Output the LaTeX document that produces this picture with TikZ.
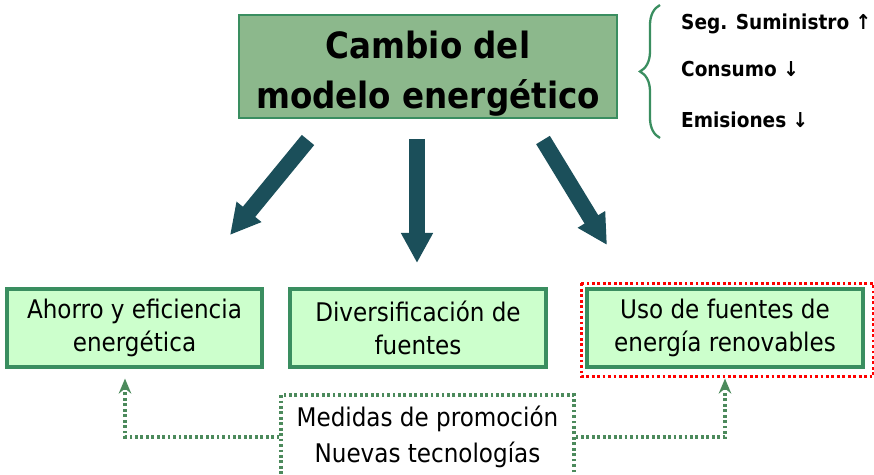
\documentclass[tikz,border=0pt]{standalone}
\usepackage{fontspec}
\IfFontExistsTF{DejaVu Sans Condensed}{\setmainfont{DejaVu Sans Condensed}}{\setmainfont{DejaVu Sans}}
\usetikzlibrary{arrows.meta,decorations.pathreplacing}
\definecolor{sage}{RGB}{140,184,140}
\definecolor{mint}{RGB}{204,255,204}
\definecolor{edge}{RGB}{58,142,96}
\definecolor{petrol}{RGB}{27,79,90}
\definecolor{dots}{RGB}{76,138,92}
\def \boxfont{\fontsize{14.6}{18.4}\selectfont}
\tikzset{
  titlebox/.style={draw=edge, line width=1.6pt, fill=sage, align=center,
    minimum width=7.56cm, minimum height=2.06cm, inner ysep=0pt,
    font=\bfseries\fontsize{20.6}{28.5}\selectfont},
  goalbox/.style={draw=edge, line width=1.8pt, fill=mint, align=center,
    minimum height=1.56cm, font=\boxfont},
  fatarrow/.style={petrol, line width=0.32cm, -{Triangle[width=0.6cm,length=0.6cm]}},
  dotline/.style={line width=1.8pt, dash pattern=on 1.6pt off 1.5pt},
  link/.style={dots, dotline,
    -{Stealth[length=0.3cm,width=0.25cm,inset=0.1cm,sep=-0.1cm]}},
  effect/.style={anchor=west, font=\bfseries\fontsize{11.7}{14}\selectfont}
}

\begin{document}
\begin{tikzpicture}
\useasboundingbox (0,0) rectangle (17.48,-9.5);
\clip (0,0) rectangle (17.48,-9.5);
% main box
\node[titlebox] (modelo) at (8.56,-1.33) {\rule{0pt}{24pt}Cambio del\\modelo energético};
% effects on the right
\draw[edge, line width=1.3pt, decorate, decoration={brace, amplitude=0.4cm}]
  (13.2,-2.76) -- (13.2,-0.1);
\node[effect] (seg) at (13.5,-0.48) {Seg. Suministro ↑};
\node[effect] (consumo) at (13.5,-1.38) {Consumo ↓};
\node[effect] (emis) at (13.5,-2.4) {Emisiones ↓};
% three lines of action
\node[goalbox, minimum width=5.1cm] (ahorro) at (2.69,-6.56) {Ahorro y eficiencia\\energética};
\node[goalbox, minimum width=5.12cm] (divers) at (8.36,-6.56) {Diversificación de\\fuentes};
\node[goalbox, minimum width=5.52cm] (uso) at (14.5,-6.56) {Uso de fuentes de\\energía renovables};
\draw[red, dotline]
  ([shift={(-0.08,0.08)}]uso.north west) rectangle ([shift={(0.18,-0.16)}]uso.south east);
% fat arrows
\coordinate (a1) at (6.16,-2.8);
\coordinate (b1) at (4.6,-4.7);
\coordinate (a2) at (8.34,-2.78);
\coordinate (b2) at (8.34,-5.26);
\coordinate (a3) at (10.86,-2.8);
\coordinate (b3) at (12.14,-4.9);
\draw[fatarrow] (a1) -- (b1);
\draw[fatarrow] (a2) -- (b2);
\draw[fatarrow] (a3) -- (b3);
% support measures
\node[draw=dots, dotline, align=center,
  minimum width=5.86cm, minimum height=1.68cm, font=\boxfont] (medidas) at (8.55,-8.74)
  {Medidas de promoción\\[2pt]Nuevas tecnologías};
\draw[link] (medidas.west) -| ([xshift=-0.19cm,yshift=-0.3cm]ahorro.south);
\draw[link] (medidas.east) -| ([yshift=-0.3cm]uso.south);
\end{tikzpicture}
\end{document}
